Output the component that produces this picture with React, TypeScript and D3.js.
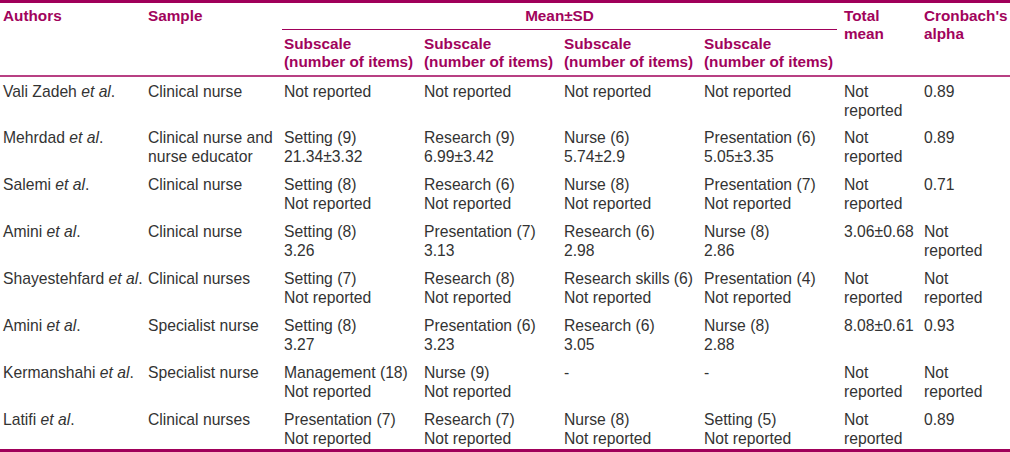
import React from "react";
import * as d3 from "d3";

const authors = ["Vali Zadeh", "Mehrdad", "Salemi", "Amini", "Shayestehfard", "Amini", "Kermanshahi", "Latifi"];
const samples = ["Clinical nurse", "Clinical nurse and nurse educator", "Clinical nurse", "Clinical nurse", "Clinical nurses", "Specialist nurse", "Specialist nurse", "Clinical nurses"];
const subscale1 = ["Not reported", "Setting (9)", "Setting (8)", "Setting (8)", "Setting (7)", "Setting (8)", "Management (18)", "Presentation (7)"];
const value1 = ["", "21.34±3.32", "Not reported", "3.26", "Not reported", "3.27", "Not reported", "Not reported"];
const subscale2 = ["Not reported", "Research (9)", "Research (6)", "Presentation (7)", "Research (8)", "Presentation (6)", "Nurse (9)", "Research (7)"];
const value2 = ["", "6.99±3.42", "Not reported", "3.13", "Not reported", "3.23", "Not reported", "Not reported"];
const subscale3 = ["Not reported", "Nurse (6)", "Nurse (8)", "Research (6)", "Research skills (6)", "Research (6)", "-", "Nurse (8)"];
const value3 = ["", "5.74±2.9", "Not reported", "2.98", "Not reported", "3.05", "", "Not reported"];
const subscale4 = ["Not reported", "Presentation (6)", "Presentation (7)", "Nurse (8)", "Presentation (4)", "Nurse (8)", "-", "Setting (5)"];
const value4 = ["", "5.05±3.35", "Not reported", "2.86", "Not reported", "2.88", "", "Not reported"];
const totalMean = ["Not reported", "Not reported", "Not reported", "3.06±0.68", "Not reported", "8.08±0.61", "Not reported", "Not reported"];
const alpha = ["0.89", "0.89", "0.71", "Not reported", "Not reported", "0.93", "Not reported", "0.89"];

const headerLabels = ["Authors", "Sample", "Mean±SD", "Total mean", "Cronbach's alpha"];
const subHeaderLines = ["Subscale", "(number of items)"];

const W = 1010;
const H = 452;
const FONT = "'Liberation Sans', Arial, sans-serif";
const HEAD = "#a1035c";
const LINE = "#a0005a";
const BODY = "#333333";
const BODY_SIZE = 15.7;
const HEAD_SIZE = 15.3;

let ctx: CanvasRenderingContext2D | null = null;
function measure(text: string, font: string) {
  if (!ctx) ctx = document.createElement("canvas").getContext("2d");
  ctx!.font = font;
  return ctx!.measureText(text).width;
}
function wrap(text: string, width: number, font: string): string[] {
  const words = text.split(" ");
  const lines: string[] = [];
  let cur = "";
  for (const w of words) {
    const t = cur ? cur + " " + w : w;
    if (cur && measure(t, font) > width) {
      lines.push(cur);
      cur = w;
    } else cur = t;
  }
  if (cur) lines.push(cur);
  return lines;
}

const colX = [3, 148, 284, 424, 564, 704, 844, 924];
const colW = [140, 134, 136, 136, 136, 136, 75, 78];

export default function App() {
  const bodyFont = `${BODY_SIZE}px ${FONT}`;
  const headFont = `bold ${HEAD_SIZE}px ${FONT}`;
  const row = d3.scaleLinear().domain([0, authors.length - 1]).range([96.5, 96.5 + 7 * 46.95]);
  const lh = 19;
  const subs = [subscale1, subscale2, subscale3, subscale4];
  const vals = [value1, value2, value3, value4];

  const cellText = (lines: string[], x: number, y: number, key: string, bold = false, color = BODY, spacing = lh) => (
    <text key={key} x={x} y={y} fill={color} fontFamily={FONT} fontSize={bold ? HEAD_SIZE : BODY_SIZE} fontWeight={bold ? "bold" : "normal"}>
      {lines.map((l, i) => (
        <tspan key={i} x={x} y={y + i * spacing}>{l}</tspan>
      ))}
    </text>
  );

  const elems: React.ReactNode[] = [];
  elems.push(cellText([headerLabels[0]], colX[0], 20.5, "h0", true, HEAD));
  elems.push(cellText([headerLabels[1]], colX[1], 20.5, "h1", true, HEAD));
  elems.push(
    <text key="h2" x={(282 + 837) / 2} y={20.5} textAnchor="middle" fill={HEAD} fontFamily={FONT} fontSize={HEAD_SIZE} fontWeight="bold">
      {headerLabels[2]}
    </text>
  );
  for (let c = 0; c < 4; c++) {
    elems.push(cellText(subHeaderLines, colX[2 + c], 48.5, "sh" + c, true, HEAD, 18.5));
  }
  elems.push(cellText(wrap(headerLabels[3], colW[6], headFont), colX[6], 20.5, "h3", true, HEAD, 18.5));
  elems.push(cellText(wrap(headerLabels[4], colW[7], headFont), colX[7], 20.5, "h4", true, HEAD, 18.5));

  authors.forEach((a, i) => {
    const y = row(i);
    elems.push(
      <text key={"a" + i} x={colX[0]} y={y} fill={BODY} fontFamily={FONT} fontSize={BODY_SIZE}>
        {a} <tspan fontStyle="italic">et al</tspan>.
      </text>
    );
    elems.push(cellText(wrap(samples[i], colW[1], bodyFont), colX[1], y, "s" + i));
    for (let c = 0; c < 4; c++) {
      const lines = [subs[c][i]];
      if (vals[c][i]) lines.push(vals[c][i]);
      elems.push(cellText(lines, colX[2 + c], y, `c${c}_${i}`));
    }
    elems.push(cellText(wrap(totalMean[i], colW[6], bodyFont), colX[6], y, "t" + i));
    elems.push(cellText(wrap(alpha[i], colW[7], bodyFont), colX[7], y, "al" + i));
  });

  return (
    <svg width={W} height={H} style={{ position: "absolute", left: 0, top: 0 }}>
      <rect width={W} height={H} fill="#ffffff" />
      <rect x={0} y={0} width={W} height={3} fill={LINE} />
      <line x1={282} x2={837} y1={29.5} y2={29.5} stroke={LINE} strokeWidth={1.2} />
      <line x1={0} x2={W} y1={76} y2={76} stroke={LINE} strokeWidth={1.5} />
      <rect x={0} y={449} width={W} height={3} fill={LINE} />
      {elems}
    </svg>
  );
}
